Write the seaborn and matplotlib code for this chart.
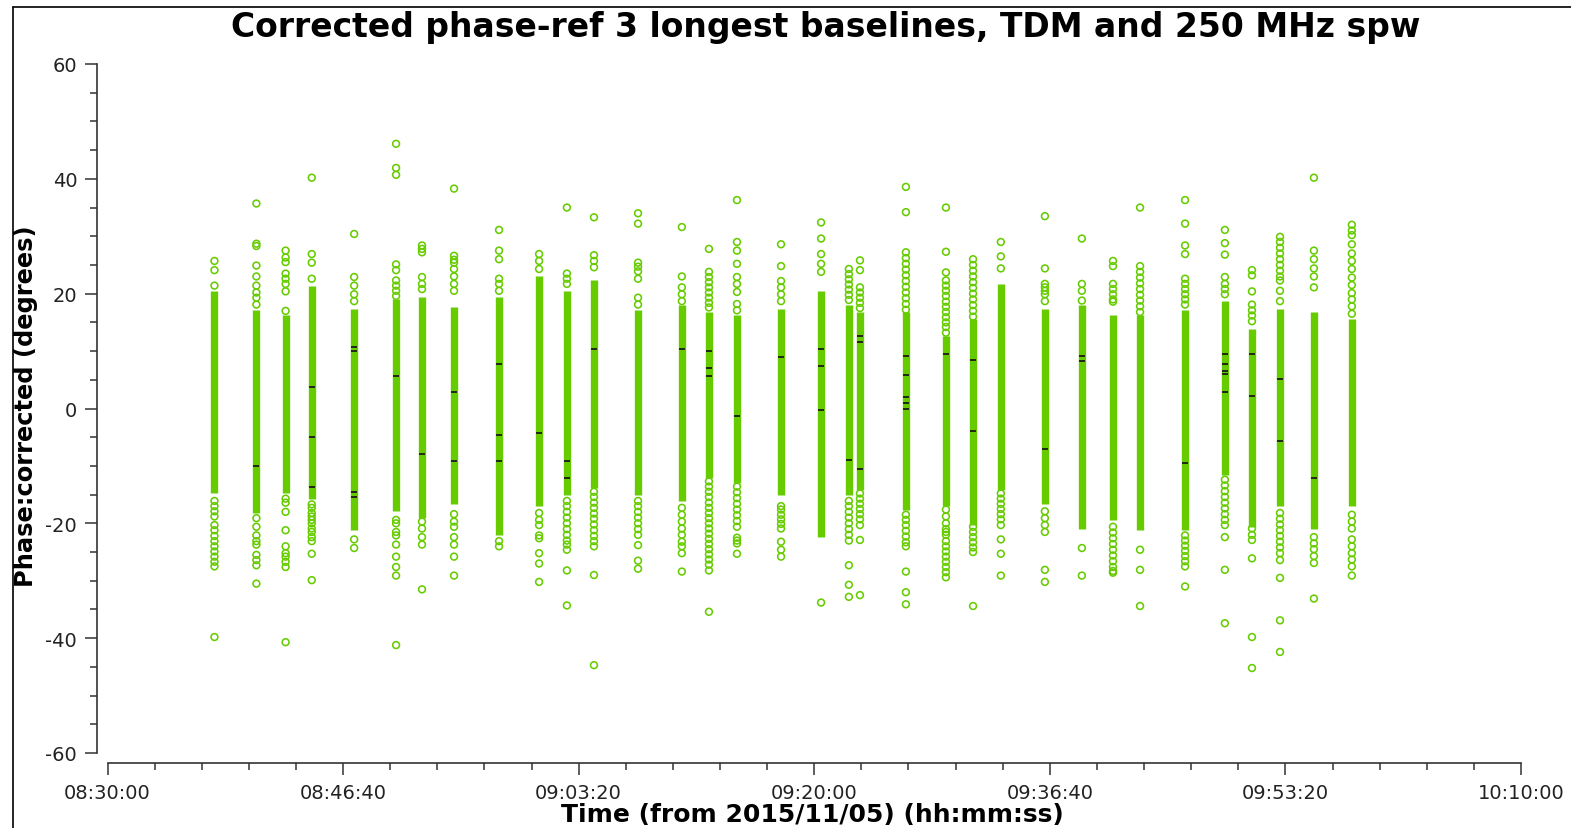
import numpy as np
import pandas as pd
import matplotlib
matplotlib.use("Agg")
import matplotlib.pyplot as plt
import seaborn as sns
from matplotlib.ticker import FuncFormatter
from matplotlib.lines import Line2D

sns.set_theme(style="ticks")
plt.rcParams['font.family'] = ['DejaVu Sans']
plt.rcParams['axes.unicode_minus'] = False

GREEN = "#66cc00"

# ---- data -------------------------------------------------------------
T0 = 8 * 3600 + 30 * 60          # 08:30:00, axis start (seconds of day)
T_END = 10 * 3600 + 10 * 60      # 10:10:00, axis end

# scan times, seconds after 08:30:00
scan_offset_s = [454, 632, 756, 867, 1047, 1225, 1335, 1471, 1662, 1832,
                 1950, 2065, 2252, 2438, 2553, 2672, 2859, 3029, 3147, 3194,
                 3389, 3559, 3674, 3792, 3979, 4136, 4268, 4383, 4574, 4743,
                 4858, 4977, 5121, 5282]

# densely packed range of each scan (degrees)
core_top = [20.5, 17.1, 16.2, 21.4, 17.4, 19.0, 19.4, 17.6, 19.4, 23.0,
            20.5, 22.3, 17.1, 18.1, 16.8, 16.2, 17.4, 20.5, 18.1, 16.8,
            16.8, 12.6, 15.6, 21.7, 17.4, 18.1, 16.3, 16.2, 17.1, 18.7,
            13.8, 17.4, 16.8, 15.6]
core_bottom = [-14.8, -18.2, -14.8, -15.7, -21.2, -17.9, -19.1, -16.7, -22.1, -17.0,
               -15.1, -13.9, -15.1, -16.1, -12.1, -13.0, -15.1, -22.4, -15.0, -14.2,
               -17.6, -17.0, -20.3, -14.2, -16.7, -20.9, -19.4, -21.2, -21.2, -11.5,
               -20.6, -17.0, -20.9, -17.0]

# individual points outside the dense range, per scan
s01 = [25.7, 24.1, 21.4, -16.1, -17.0, -17.9, -18.8, -20.3, -21.2, -22.2, -23.1, -24.0, -24.9, -25.8, -26.7, -27.5, -39.8]
s02 = [35.7, 28.7, 28.3, 24.9, 23.0, 21.4, 20.2, 19.3, 18.1, -19.1, -20.6, -22.1, -23.1, -23.7, -25.5, -26.4, -27.3, -30.5]
s03 = [27.5, 26.3, 25.5, 23.5, 22.6, 21.7, 20.4, 17.0, -15.7, -16.4, -18.0, -21.2, -24.0, -25.2, -25.8, -26.7, -27.6, -40.7]
s04 = [40.2, 26.9, 25.4, 22.6, -16.7, -17.3, -18.2, -18.8, -19.4, -20.0, -20.9, -21.5, -22.4, -23.1, -25.3, -29.9]
s05 = [30.4, 22.9, 21.4, 19.9, 18.7, -22.8, -24.3]
s06 = [46.1, 41.9, 40.7, 25.1, 24.1, 22.3, 21.4, 20.5, 19.6, -19.4, -20.0, -21.5, -22.1, -23.7, -25.8, -27.6, -29.1, -41.2]
s07 = [28.4, 27.8, 27.2, 22.9, 21.7, 20.8, -19.7, -20.9, -22.4, -23.7, -31.5]
s08 = [38.3, 26.6, 25.9, 25.4, 24.3, 23.0, 21.7, 20.5, -18.4, -19.7, -20.6, -22.4, -23.7, -25.8, -29.1]
s09 = [31.1, 27.5, 26.0, 22.6, 21.7, 20.5, -23.1, -24.0]
s10 = [26.9, 25.7, 24.3, -18.2, -19.4, -20.3, -22.1, -22.6, -25.2, -27.0, -30.2]
s11 = [35.0, 23.5, 22.6, 21.7, -16.1, -17.0, -18.0, -19.0, -20.0, -21.0, -22.0, -23.0, -23.7, -24.6, -28.2, -34.3]
s12 = [33.3, 26.7, 25.7, 24.6, -14.5, -15.4, -16.4, -17.3, -18.3, -19.2, -20.2, -21.2, -22.2, -23.1, -24.0, -29.0, -44.7]
s13 = [34.0, 32.2, 25.4, 24.7, 23.9, 22.6, 19.3, 18.1, -16.1, -17.0, -18.0, -19.0, -20.0, -21.0, -22.0, -23.8, -26.5, -27.9]
s14 = [31.6, 23.0, 21.1, 19.9, 18.7, -17.3, -18.5, -19.7, -20.9, -22.0, -23.2, -24.0, -25.2, -28.4]
s15 = [27.8, 23.8, 22.9, 22.0, 21.1, 20.2, 19.3, 18.4, 17.6, -12.7, -13.6, -14.5, -15.4, -16.4, -17.3, -18.2, -19.1,
       -20.0, -20.9, -21.8, -22.7, -23.6, -24.5, -25.4, -26.3, -27.2, -28.2, -35.4]
s16 = [36.3, 29.0, 27.5, 25.2, 22.9, 21.7, 20.3, 18.2, 17.1, -13.6, -14.6, -15.6, -16.6, -17.6, -18.6, -19.6, -20.6,
       -22.5, -23.0, -23.5, -25.3]
s17 = [28.6, 24.8, 22.2, 21.1, 19.9, 18.7, -17.0, -17.6, -18.5, -19.3, -20.1, -20.9, -23.2, -24.6, -25.8]
s18 = [32.4, 29.6, 26.9, 25.2, 23.8, -33.8]
s19 = [24.3, 23.4, 22.5, 21.6, 20.7, 19.8, 18.9, -16.1, -17.0, -18.0, -19.0, -20.0, -21.0, -22.0, -23.0, -27.3, -30.7, -32.8]
s20 = [25.8, 24.1, 21.1, 20.2, 19.3, 18.4, 17.5, -14.8, -15.7, -16.6, -17.5, -18.4, -19.3, -20.3, -22.9, -32.5]
s21 = [38.6, 34.2, 27.2, 26.2, 25.2, 24.2, 23.2, 22.2, 21.2, 20.2, 19.2, 18.2, 17.2, -18.5, -19.4, -20.3, -21.3, -22.3,
       -23.3, -24.0, -28.4, -32.0, -34.1]
s22 = [35.0, 27.3, 23.7, 22.3, 21.4, 20.5, 19.6, 18.6, 17.7, 16.8, 15.9, 15.0, 14.2, 13.2, -17.6, -18.8, -20.0, -21.0,
       -21.5, -22.0, -23.1, -24.0, -24.9, -25.8, -26.7, -27.6, -28.5, -29.4]
s23 = [26.0, 25.0, 24.0, 23.0, 22.0, 21.0, 20.0, 19.0, 18.0, 17.0, 16.0, -20.6, -21.5, -22.4, -23.3, -24.2, -25.0, -34.4]
s24 = [29.0, 26.5, 24.4, -14.8, -15.7, -16.6, -17.5, -18.4, -19.3, -20.3, -22.8, -25.3, -29.1]
s25 = [33.5, 24.4, 21.7, 21.1, 20.5, 19.9, 18.7, -17.9, -19.1, -20.3, -21.5, -28.1, -30.2]
s26 = [29.6, 21.7, 20.5, 18.8, -24.3, -29.1]
s27 = [25.7, 24.8, 21.7, 20.8, 19.9, 19.0, 18.6, -20.6, -21.6, -22.6, -23.6, -24.6, -25.6, -26.6, -27.6, -28.3, -28.6]
s28 = [35.0, 24.8, 23.8, 22.8, 21.8, 20.8, 19.8, 18.8, 17.8, 16.8, -24.6, -28.1, -34.4]
s29 = [36.3, 32.2, 28.4, 26.9, 22.6, 21.7, 20.8, 19.9, 19.0, 18.1, -22.1, -23.0, -23.9, -24.8, -25.7, -26.6, -27.5, -31.0]
s30 = [31.1, 28.8, 26.8, 22.9, 21.7, 20.8, 19.9, -12.4, -13.4, -14.4, -15.4, -16.4, -17.4, -18.4, -19.4, -20.3,
       -22.4, -28.1, -37.4]
s31 = [24.1, 23.2, 20.4, 18.1, 17.1, 16.2, 15.2, -20.9, -22.0, -22.9, -26.1, -39.8, -45.2]
s32 = [29.9, 29.0, 28.0, 27.0, 26.0, 25.0, 24.0, 23.0, 22.3, 20.5, 18.7, -18.2, -19.2, -20.2, -21.2, -22.2, -23.2,
       -24.2, -25.2, -26.4, -29.5, -36.9, -42.4]
s33 = [40.2, 27.5, 26.0, 24.4, 23.0, 21.1, -22.4, -23.5, -24.5, -25.7, -26.9, -33.1]
s34 = [32.0, 31.0, 30.2, 28.6, 27.0, 25.7, 24.3, 22.8, 21.5, 20.1, 19.0, 17.8, 16.5, -18.5, -19.7, -20.9, -22.8,
       -24.0, -25.2, -26.3, -27.5, -29.1]

# overlapping (black) points: scan index and phase
flag_scan = [1, 3, 3, 3, 4, 4, 4, 4, 5, 6, 7, 7, 8, 8, 8, 9, 10, 10, 11, 13, 14, 14, 14, 15, 16,
             17, 17, 17, 18, 19, 19, 19, 20, 20, 20, 20, 20, 21, 22, 22, 24, 25, 25, 28,
             29, 29, 29, 29, 29, 30, 30, 31, 31, 32]
flag_phase = [-10.1, 3.7, -4.9, -13.6, 10.7, 10.0, -14.5, -15.4, 5.6, -8.0, 2.8, -9.1, 7.7, -4.6, -9.1,
              -4.2, -9.1, -12.1, 10.3, 10.4, 10.0, 7.0, 5.7, -1.3, 8.9,
              10.3, 7.4, -0.3, -8.9, 12.6, 11.5, -10.5, 9.2, 5.9, 2.0, 1.0, 0.0, 9.5, 8.5, -3.9, -7.0, 9.2, 8.2, -9.5,
              9.5, 7.7, 6.6, 6.0, 2.8, 9.5, 2.2, 5.1, -5.7, -12.1]

TITLE = "Corrected phase-ref 3 longest baselines, TDM and 250 MHz spw"
XLABEL = "Time (from 2015/11/05) (hh:mm:ss)"
YLABEL = "Phase:corrected (degrees)"

# ---- assemble ----------------------------------------------------------
scans = [s01, s02, s03, s04, s05, s06, s07, s08, s09, s10, s11, s12, s13, s14, s15, s16, s17,
         s18, s19, s20, s21, s22, s23, s24, s25, s26, s27, s28, s29, s30, s31, s32, s33, s34]
scan_time = T0 + np.array(scan_offset_s)

rows = []
for t, pts in zip(scan_time, scans):
    for p in pts:
        rows.append((t, p))
df_pts = pd.DataFrame(rows, columns=["time", "phase"])
df_flag = pd.DataFrame({"time": scan_time[np.array(flag_scan)], "phase": flag_phase})

# ---- figure ------------------------------------------------------------
W, H = 1571, 829
fig = plt.figure(figsize=(W / 100, H / 100), dpi=100)
fig.patch.set_facecolor("white")
ax = fig.add_axes([107.5 / W, 1 - 754 / H, (1521 - 107.5) / W, (754 - 65) / H])
ax.set_facecolor("white")

ax.vlines(scan_time, core_bottom, core_top, colors=GREEN, linewidth=5.3, zorder=2)
sns.scatterplot(data=df_pts, x="time", y="phase", ax=ax, marker="o", s=24,
                facecolor="none", edgecolor=GREEN, linewidth=1.15, zorder=3, legend=False)
sns.scatterplot(data=df_flag, x="time", y="phase", ax=ax, marker="_", s=16,
                color="#1a1a1a", linewidth=1.3, zorder=4, legend=False)

ax.set_xlim(T0, T_END)
ax.set_ylim(-60, 60)
ax.set_xticks(np.arange(T0, T_END + 1, 1000))
ax.set_xticks(np.arange(T0, T_END + 1, 200), minor=True)
ax.set_yticks(np.arange(-60, 61, 20))
ax.set_yticks(np.arange(-60, 61, 5), minor=True)


def hms(v, pos=None):
    v = int(round(v))
    return f"{v // 3600:02d}:{(v % 3600) // 60:02d}:{v % 60:02d}"


ax.xaxis.set_major_formatter(FuncFormatter(hms))
ax.set_xlabel("")
ax.set_ylabel("")

for side in ("top", "right"):
    ax.spines[side].set_visible(False)
ax.spines["left"].set_position(("outward", 7.5))
ax.spines["bottom"].set_position(("outward", 7.5))
for side in ("left", "bottom"):
    ax.spines[side].set_color("#333333")
    ax.spines[side].set_linewidth(1.2)

ax.tick_params(axis="both", which="major", direction="out", length=8.8, width=1.1,
               color="#333333", labelsize=14, labelcolor="#222222", pad=5.5)
ax.tick_params(axis="both", which="minor", direction="out", length=4.8, width=1.1,
               color="#333333")

fig.text(826 / W, 1 - 27 / H, TITLE, ha="center", va="center", fontsize=23.8,
         fontweight="bold", color="black")
fig.text(812 / W, 1 - 815 / H, XLABEL, ha="center", va="center", fontsize=18,
         fontweight="bold", color="black")
fig.text(26 / W, 1 - 406 / H, YLABEL, ha="center", va="center", rotation=90, fontsize=17.4,
         fontweight="bold", color="black")

# outer frame (top and left edges visible)
fx, fy = 12.5 / W, 1 - 7.5 / H
fig.add_artist(Line2D([fx, 1.0], [fy, fy], color="black", linewidth=1.2, transform=fig.transFigure))
fig.add_artist(Line2D([fx, fx], [0.0, fy], color="black", linewidth=1.2, transform=fig.transFigure))

fig.savefig("out.png", dpi=100, facecolor="white")
